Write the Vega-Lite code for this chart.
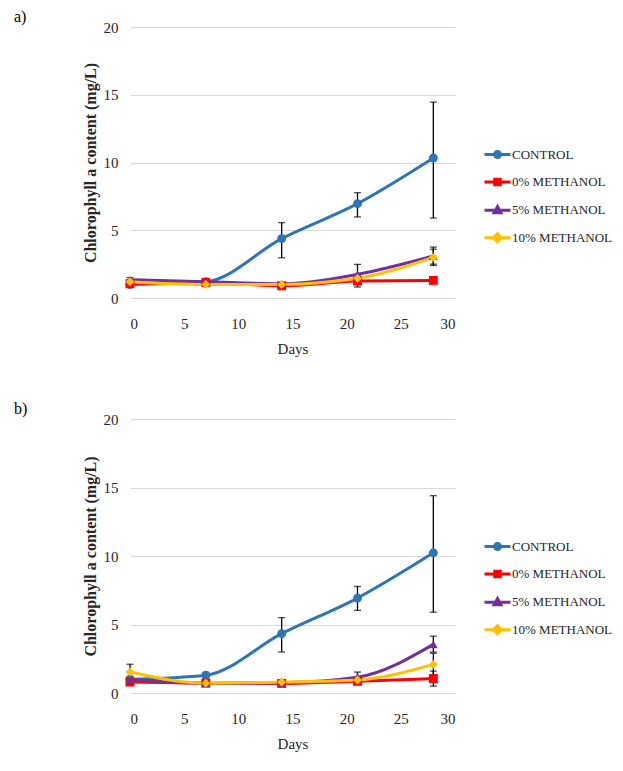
{
  "$schema": "https://vega.github.io/schema/vega-lite/v6.json",
  "background": "white",
  "padding": {"left": 14, "top": 9, "right": 5, "bottom": 5},
  "spacing": 45,
  "config": {
    "font": "Liberation Serif",
    "view": {"stroke": null},
    "axis": {"labelFont": "Liberation Serif", "titleFont": "Liberation Serif", "labelFontSize": 15, "labelColor": "#262626", "titleColor": "#262626", "ticks": false, "domain": false, "gridColor": "#d9d9d9", "gridWidth": 1},
    "legend": {"labelFont": "Liberation Serif", "titleFont": "Liberation Serif"},
    "title": {"font": "Liberation Serif", "fontSize": 16, "fontWeight": "normal", "anchor": "start", "frame": "bounds", "dx": -68, "offset": -5, "color": "black"}
  },
  "datasets": {
    "chl": [
      {"panel": "a", "series": "CONTROL", "day": 0, "value": 1.0, "lo": 0.85, "hi": 1.15},
      {"panel": "a", "series": "CONTROL", "day": 7, "value": 1.2, "lo": 1.0, "hi": 1.4},
      {"panel": "a", "series": "CONTROL", "day": 14, "value": 4.38, "lo": 2.97, "hi": 5.56},
      {"panel": "a", "series": "CONTROL", "day": 21, "value": 6.96, "lo": 5.98, "hi": 7.77},
      {"panel": "a", "series": "CONTROL", "day": 28, "value": 10.33, "lo": 5.9, "hi": 14.46},
      {"panel": "a", "series": "0% METHANOL", "day": 0, "value": 1.05, "lo": 0.9, "hi": 1.2},
      {"panel": "a", "series": "0% METHANOL", "day": 7, "value": 1.15, "lo": 0.9, "hi": 1.3},
      {"panel": "a", "series": "0% METHANOL", "day": 14, "value": 0.9, "lo": 0.8, "hi": 1.0},
      {"panel": "a", "series": "0% METHANOL", "day": 21, "value": 1.25, "lo": 0.81, "hi": 1.6},
      {"panel": "a", "series": "0% METHANOL", "day": 28, "value": 1.3, "lo": 1.15, "hi": 1.45},
      {"panel": "a", "series": "5% METHANOL", "day": 0, "value": 1.35, "lo": 1.2, "hi": 1.5},
      {"panel": "a", "series": "5% METHANOL", "day": 7, "value": 1.2, "lo": 1.05, "hi": 1.35},
      {"panel": "a", "series": "5% METHANOL", "day": 14, "value": 1.05, "lo": 0.95, "hi": 1.15},
      {"panel": "a", "series": "5% METHANOL", "day": 21, "value": 1.75, "lo": 1.1, "hi": 2.48},
      {"panel": "a", "series": "5% METHANOL", "day": 28, "value": 3.1, "lo": 2.5, "hi": 3.76},
      {"panel": "a", "series": "10% METHANOL", "day": 0, "value": 1.2, "lo": 1.05, "hi": 1.35},
      {"panel": "a", "series": "10% METHANOL", "day": 7, "value": 1.0, "lo": 0.85, "hi": 1.15},
      {"panel": "a", "series": "10% METHANOL", "day": 14, "value": 1.0, "lo": 0.9, "hi": 1.1},
      {"panel": "a", "series": "10% METHANOL", "day": 21, "value": 1.45, "lo": 1.2, "hi": 1.7},
      {"panel": "a", "series": "10% METHANOL", "day": 28, "value": 3.0, "lo": 2.4, "hi": 3.6},
      {"panel": "b", "series": "CONTROL", "day": 0, "value": 1.0, "lo": 0.8, "hi": 1.2},
      {"panel": "b", "series": "CONTROL", "day": 7, "value": 1.3, "lo": 1.1, "hi": 1.5},
      {"panel": "b", "series": "CONTROL", "day": 14, "value": 4.33, "lo": 2.99, "hi": 5.5},
      {"panel": "b", "series": "CONTROL", "day": 21, "value": 6.93, "lo": 6.03, "hi": 7.78},
      {"panel": "b", "series": "CONTROL", "day": 28, "value": 10.23, "lo": 5.9, "hi": 14.4},
      {"panel": "b", "series": "0% METHANOL", "day": 0, "value": 0.8, "lo": 0.65, "hi": 0.95},
      {"panel": "b", "series": "0% METHANOL", "day": 7, "value": 0.72, "lo": 0.6, "hi": 0.85},
      {"panel": "b", "series": "0% METHANOL", "day": 14, "value": 0.7, "lo": 0.6, "hi": 0.8},
      {"panel": "b", "series": "0% METHANOL", "day": 21, "value": 0.85, "lo": 0.7, "hi": 1.0},
      {"panel": "b", "series": "0% METHANOL", "day": 28, "value": 1.05, "lo": 0.5, "hi": 1.6},
      {"panel": "b", "series": "5% METHANOL", "day": 0, "value": 1.0, "lo": 0.8, "hi": 1.2},
      {"panel": "b", "series": "5% METHANOL", "day": 7, "value": 0.7, "lo": 0.6, "hi": 0.8},
      {"panel": "b", "series": "5% METHANOL", "day": 14, "value": 0.75, "lo": 0.65, "hi": 0.85},
      {"panel": "b", "series": "5% METHANOL", "day": 21, "value": 1.15, "lo": 0.8, "hi": 1.53},
      {"panel": "b", "series": "5% METHANOL", "day": 28, "value": 3.55, "lo": 2.99, "hi": 4.15},
      {"panel": "b", "series": "10% METHANOL", "day": 0, "value": 1.53, "lo": 0.95, "hi": 2.1},
      {"panel": "b", "series": "10% METHANOL", "day": 7, "value": 0.72, "lo": 0.6, "hi": 0.85},
      {"panel": "b", "series": "10% METHANOL", "day": 14, "value": 0.8, "lo": 0.7, "hi": 0.9},
      {"panel": "b", "series": "10% METHANOL", "day": 21, "value": 0.95, "lo": 0.75, "hi": 1.15},
      {"panel": "b", "series": "10% METHANOL", "day": 28, "value": 2.09, "lo": 1.3, "hi": 2.9}
    ]
  },
  "vconcat": [
    {
      "title": {"text": "a)"},
      "width": 325,
      "height": 271,
      "data": {"name": "chl"},
      "transform": [{"filter": "datum.panel === 'a'"}],
      "encoding": {
        "x": {"field": "day", "type": "quantitative", "scale": {"domain": [0, 30]}, "axis": {"values": [0, 5, 10, 15, 20, 25, 30], "grid": false, "title": "Days", "labelFont": "Liberation Serif", "titleFont": "Liberation Serif", "labelFontSize": 15, "titleFontSize": 15, "titleFontWeight": "normal", "labelPadding": 18, "titlePadding": 10}}
      },
      "layer": [
        {
          "mark": {"type": "errorbar", "color": "black", "thickness": 1.3, "ticks": {"size": 7, "thickness": 1.3}},
          "encoding": {
            "y": {"field": "lo", "type": "quantitative", "scale": {"domain": [0, 20]}, "title": "Chlorophyll a content (mg/L)", "axis": {"values": [0, 5, 10, 15, 20], "labelFont": "Liberation Serif", "titleFont": "Liberation Serif", "labelFontSize": 15, "titleFontSize": 16, "titleFontWeight": "bold", "labelPadding": 12, "titlePadding": 5}},
            "y2": {"field": "hi"}
          }
        },
        {
          "mark": {"type": "line", "interpolate": "monotone", "strokeWidth": 3},
          "encoding": {
            "y": {"field": "value", "type": "quantitative", "title": "Chlorophyll a content (mg/L)"},
            "color": {"field": "series", "type": "nominal", "scale": {"domain": ["CONTROL", "0% METHANOL", "5% METHANOL", "10% METHANOL"], "range": ["#2E75B6", "#FF0000", "#7030A0", "#FFC000"]}, "legend": null}
          }
        },
        {
          "mark": {"type": "point", "filled": true, "size": 80, "opacity": 1},
          "encoding": {
            "y": {"field": "value", "type": "quantitative", "title": "Chlorophyll a content (mg/L)"},
            "color": {"field": "series", "type": "nominal", "scale": {"domain": ["CONTROL", "0% METHANOL", "5% METHANOL", "10% METHANOL"], "range": ["#2E75B6", "#FF0000", "#7030A0", "#FFC000"]}, "legend": null},
            "shape": {"field": "series", "type": "nominal", "scale": {"domain": ["CONTROL", "0% METHANOL", "5% METHANOL", "10% METHANOL"], "range": ["circle", "square", "triangle-up", "diamond"]}, "legend": null}
          }
        },
        {
          "transform": [{"filter": "false"}],
          "mark": {"type": "point", "filled": false, "strokeWidth": 3, "opacity": 1},
          "encoding": {
            "y": {"field": "value", "type": "quantitative", "title": "Chlorophyll a content (mg/L)"},
            "color": {"field": "series", "type": "nominal",
              "scale": {"domain": ["CONTROL", "0% METHANOL", "5% METHANOL", "10% METHANOL"], "range": ["#2E75B6", "#FF0000", "#7030A0", "#FFC000"]},
              "legend": {"title": null, "orient": "none", "legendX": 361, "legendY": 121, "padding": 0, "labelFont": "Liberation Serif", "labelFontSize": 13, "labelColor": "#262626", "symbolSize": 100, "symbolStrokeWidth": 3, "symbolOpacity": 1, "labelOffset": 8, "rowPadding": 8.4}},
            "shape": {"field": "series", "type": "nominal",
              "scale": {"domain": ["CONTROL", "0% METHANOL", "5% METHANOL", "10% METHANOL"], "range": [
                "M-2.6,0H2.6M0.6,0A0.6,0.6 0 1,1 -0.6,0A0.6,0.6 0 1,1 0.6,0ZM0.25,0A0.25,0.25 0 1,1 -0.25,0A0.25,0.25 0 1,1 0.25,0Z",
                "M-2.6,0H2.6M-0.55,-0.55H0.55V0.55H-0.55ZM-0.2,-0.2H0.2V0.2H-0.2Z",
                "M-2.6,0H2.6M0,-0.75L0.68,0.5H-0.68ZM0,-0.3L0.25,0.2H-0.25Z",
                "M-2.6,0H2.6M0,-0.8L0.8,0L0,0.8L-0.8,0ZM0,-0.35L0.35,0L0,0.35L-0.35,0Z"]},
              "legend": {"title": null, "orient": "none", "legendX": 361, "legendY": 121, "padding": 0, "labelFont": "Liberation Serif", "labelFontSize": 13, "labelColor": "#262626", "symbolSize": 100, "symbolStrokeWidth": 3, "symbolOpacity": 1, "labelOffset": 8, "rowPadding": 8.4}}
          }
        }
      ],
      "resolve": {"scale": {"shape": "independent", "color": "independent"}, "legend": {"shape": "independent", "color": "independent"}}
    },
    {
      "title": {"text": "b)"},
      "width": 325,
      "height": 274,
      "data": {"name": "chl"},
      "transform": [{"filter": "datum.panel === 'b'"}],
      "encoding": {
        "x": {"field": "day", "type": "quantitative", "scale": {"domain": [0, 30]}, "axis": {"values": [0, 5, 10, 15, 20, 25, 30], "grid": false, "title": "Days", "labelFont": "Liberation Serif", "titleFont": "Liberation Serif", "labelFontSize": 15, "titleFontSize": 15, "titleFontWeight": "normal", "labelPadding": 18, "titlePadding": 10}}
      },
      "layer": [
        {
          "mark": {"type": "errorbar", "color": "black", "thickness": 1.3, "ticks": {"size": 7, "thickness": 1.3}},
          "encoding": {
            "y": {"field": "lo", "type": "quantitative", "scale": {"domain": [0, 20]}, "title": "Chlorophyll a content (mg/L)", "axis": {"values": [0, 5, 10, 15, 20], "labelFont": "Liberation Serif", "titleFont": "Liberation Serif", "labelFontSize": 15, "titleFontSize": 16, "titleFontWeight": "bold", "labelPadding": 12, "titlePadding": 5}},
            "y2": {"field": "hi"}
          }
        },
        {
          "mark": {"type": "line", "interpolate": "monotone", "strokeWidth": 3},
          "encoding": {
            "y": {"field": "value", "type": "quantitative", "title": "Chlorophyll a content (mg/L)"},
            "color": {"field": "series", "type": "nominal", "scale": {"domain": ["CONTROL", "0% METHANOL", "5% METHANOL", "10% METHANOL"], "range": ["#2E75B6", "#FF0000", "#7030A0", "#FFC000"]}, "legend": null}
          }
        },
        {
          "mark": {"type": "point", "filled": true, "size": 80, "opacity": 1},
          "encoding": {
            "y": {"field": "value", "type": "quantitative", "title": "Chlorophyll a content (mg/L)"},
            "color": {"field": "series", "type": "nominal", "scale": {"domain": ["CONTROL", "0% METHANOL", "5% METHANOL", "10% METHANOL"], "range": ["#2E75B6", "#FF0000", "#7030A0", "#FFC000"]}, "legend": null},
            "shape": {"field": "series", "type": "nominal", "scale": {"domain": ["CONTROL", "0% METHANOL", "5% METHANOL", "10% METHANOL"], "range": ["circle", "square", "triangle-up", "diamond"]}, "legend": null}
          }
        },
        {
          "transform": [{"filter": "false"}],
          "mark": {"type": "point", "filled": false, "strokeWidth": 3, "opacity": 1},
          "encoding": {
            "y": {"field": "value", "type": "quantitative", "title": "Chlorophyll a content (mg/L)"},
            "color": {"field": "series", "type": "nominal",
              "scale": {"domain": ["CONTROL", "0% METHANOL", "5% METHANOL", "10% METHANOL"], "range": ["#2E75B6", "#FF0000", "#7030A0", "#FFC000"]},
              "legend": {"title": null, "orient": "none", "legendX": 361, "legendY": 121, "padding": 0, "labelFont": "Liberation Serif", "labelFontSize": 13, "labelColor": "#262626", "symbolSize": 100, "symbolStrokeWidth": 3, "symbolOpacity": 1, "labelOffset": 8, "rowPadding": 8.4}},
            "shape": {"field": "series", "type": "nominal",
              "scale": {"domain": ["CONTROL", "0% METHANOL", "5% METHANOL", "10% METHANOL"], "range": [
                "M-2.6,0H2.6M0.6,0A0.6,0.6 0 1,1 -0.6,0A0.6,0.6 0 1,1 0.6,0ZM0.25,0A0.25,0.25 0 1,1 -0.25,0A0.25,0.25 0 1,1 0.25,0Z",
                "M-2.6,0H2.6M-0.55,-0.55H0.55V0.55H-0.55ZM-0.2,-0.2H0.2V0.2H-0.2Z",
                "M-2.6,0H2.6M0,-0.75L0.68,0.5H-0.68ZM0,-0.3L0.25,0.2H-0.25Z",
                "M-2.6,0H2.6M0,-0.8L0.8,0L0,0.8L-0.8,0ZM0,-0.35L0.35,0L0,0.35L-0.35,0Z"]},
              "legend": {"title": null, "orient": "none", "legendX": 361, "legendY": 121, "padding": 0, "labelFont": "Liberation Serif", "labelFontSize": 13, "labelColor": "#262626", "symbolSize": 100, "symbolStrokeWidth": 3, "symbolOpacity": 1, "labelOffset": 8, "rowPadding": 8.4}}
          }
        }
      ],
      "resolve": {"scale": {"shape": "independent", "color": "independent"}, "legend": {"shape": "independent", "color": "independent"}}
    }
  ],
  "resolve": {"scale": {"color": "independent", "shape": "independent"}, "legend": {"color": "independent", "shape": "independent"}}
}
